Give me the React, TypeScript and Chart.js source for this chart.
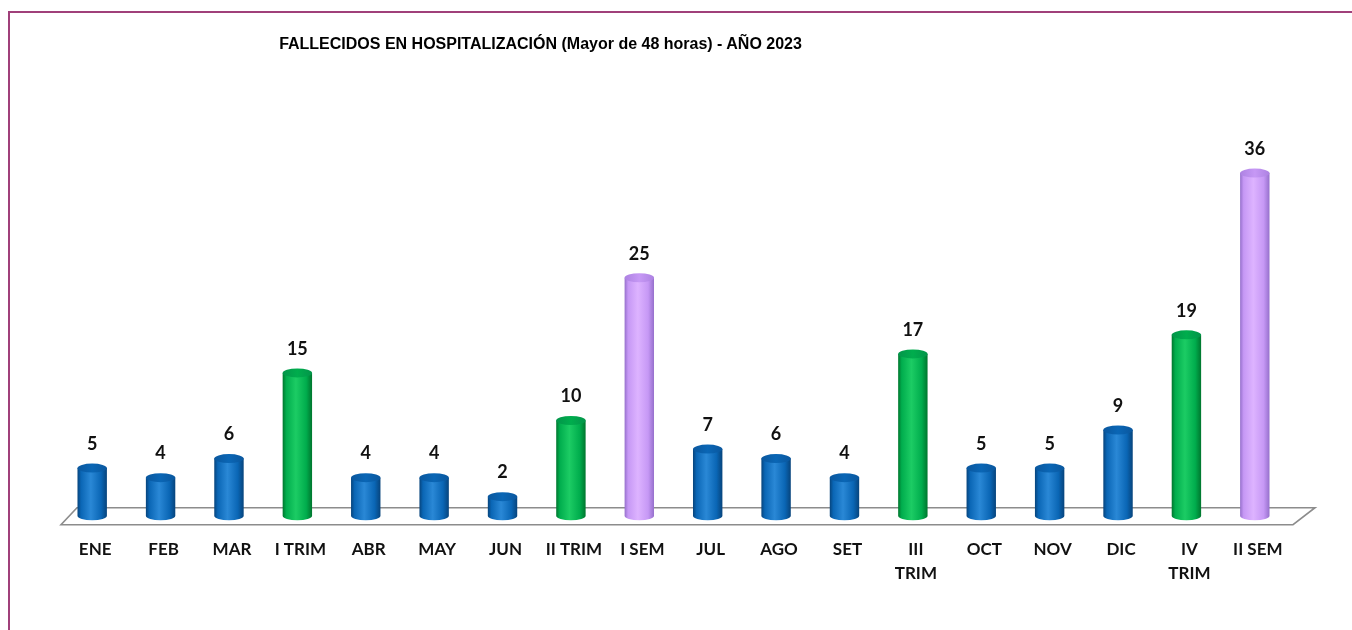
import React, { useEffect, useRef } from "react";
import { Chart, registerables } from "chart.js";

Chart.register(...registerables);

const categories: (string | string[])[] = [
  "ENE", "FEB", "MAR", "I TRIM", "ABR", "MAY", "JUN", "II TRIM", "I SEM",
  "JUL", "AGO", "SET", ["III", "TRIM"], "OCT", "NOV", "DIC", ["IV", "TRIM"], "II SEM",
];
const values = [5, 4, 6, 15, 4, 4, 2, 10, 25, 7, 6, 4, 17, 5, 5, 9, 19, 36];
const kinds = [
  "mes", "mes", "mes", "trim", "mes", "mes", "mes", "trim", "sem",
  "mes", "mes", "mes", "trim", "mes", "mes", "mes", "trim", "sem",
];
const titleText = "FALLECIDOS EN HOSPITALIZACIÓN (Mayor de 48 horas) - AÑO 2023";
const yMax = 40;

const palettes: Record<string, { dark: string; light: string; base: string; top: string }> = {
  mes: { dark: "#07447c", light: "#2a88d6", base: "#0a66b5", top: "#0a579e" },
  trim: { dark: "#00762e", light: "#1ccc64", base: "#00ad4d", top: "#03954a" },
  sem: { dark: "#9670cc", light: "#ddb3ff", base: "#c698f5", top: "#ad82e2" },
};

const floorPlugin = {
  id: "floor3d",
  beforeDatasetsDraw(chart: any) {
    const { ctx, chartArea } = chart;
    const y0 = chart.scales.y.getPixelForValue(0);
    ctx.save();
    ctx.beginPath();
    ctx.moveTo(chartArea.left + 3, y0 + 9);
    ctx.lineTo(chartArea.right + 4, y0 + 9);
    ctx.lineTo(chartArea.right + 26, y0 - 8);
    ctx.lineTo(chartArea.left + 19, y0 - 8);
    ctx.closePath();
    ctx.fillStyle = "#ffffff";
    ctx.fill();
    ctx.strokeStyle = "#8c8c8c";
    ctx.lineWidth = 1.6;
    ctx.stroke();
    ctx.restore();
  },
};

const cylinderPlugin = {
  id: "cylinders",
  afterDatasetsDraw(chart: any) {
    const ctx = chart.ctx;
    const meta = chart.getDatasetMeta(0);
    ctx.save();
    meta.data.forEach((bar: any, i: number) => {
      const { x, y, base, width } = bar.getProps(["x", "y", "base", "width"], true);
      const p = palettes[kinds[i]];
      const l = x - width / 2;
      const r = x + width / 2;
      const rx = width / 2;
      const ry = 4.5;
      const g = ctx.createLinearGradient(l, 0, r, 0);
      g.addColorStop(0, p.dark);
      g.addColorStop(0.12, p.base);
      g.addColorStop(0.45, p.light);
      g.addColorStop(0.8, p.base);
      g.addColorStop(1, p.dark);
      ctx.beginPath();
      ctx.moveTo(l, y);
      ctx.lineTo(l, base);
      ctx.ellipse(x, base, rx, ry, 0, Math.PI, 0, true);
      ctx.lineTo(r, y);
      ctx.closePath();
      ctx.fillStyle = g;
      ctx.fill();
      const gt = ctx.createLinearGradient(l, 0, r, 0);
      gt.addColorStop(0, p.top);
      gt.addColorStop(0.5, p.base);
      gt.addColorStop(1, p.top);
      ctx.beginPath();
      ctx.ellipse(x, y, rx, ry, 0, 0, Math.PI * 2);
      ctx.fillStyle = gt;
      ctx.fill();
      ctx.fillStyle = "#111111";
      ctx.font = "bold 18px Lato";
      ctx.textAlign = "center";
      ctx.textBaseline = "middle";
      ctx.fillText(String(values[i]), x, y - 24);
    });
    ctx.restore();
  },
};

export default function App() {
  const canvasRef = useRef<HTMLCanvasElement | null>(null);

  useEffect(() => {
    if (!canvasRef.current) return;
    const chart = new Chart(canvasRef.current, {
      type: "bar",
      data: {
        labels: categories,
        datasets: [
          {
            data: values,
            backgroundColor: "rgba(0,0,0,0)",
            borderWidth: 0,
            categoryPercentage: 1,
            barPercentage: 0.43,
          },
        ],
      },
      options: {
        responsive: false,
        animation: false,
        events: [],
        layout: { padding: { left: 58, right: 63, top: 135, bottom: 23 } },
        plugins: {
          legend: { display: false },
          title: { display: false },
          tooltip: { enabled: false },
        },
        scales: {
          x: {
            grid: { display: false, drawTicks: false },
            border: { display: false },
            ticks: {
              padding: 21,
              labelOffset: 3,
              color: "#111111",
              font: { family: "Lato", weight: "bold", size: 17, lineHeight: 1.45 },
              maxRotation: 0,
              autoSkip: false,
            },
          },
          y: {
            display: false,
            min: 0,
            max: yMax,
          },
        },
      },
      plugins: [floorPlugin, cylinderPlugin],
    });
    return () => chart.destroy();
  }, []);

  return (
    <div style={{ position: "absolute", left: 0, top: 0, width: 1352, height: 630, overflow: "hidden", background: "#fff" }}>
      <div
        style={{
          position: "absolute",
          left: 8,
          top: 11,
          width: 1360,
          height: 640,
          borderLeft: "2px solid #a0407a",
          borderTop: "2px solid #a0407a",
        }}
      />
      <canvas ref={canvasRef} width={1352} height={630} style={{ position: "absolute", left: 0, top: 0 }} />
      <div
        style={{
          position: "absolute",
          left: 0,
          top: 36,
          width: 1081,
          textAlign: "center",
          fontFamily: "'Liberation Sans Narrow', 'Liberation Sans', Arial, sans-serif",
          fontWeight: "bold",
          fontSize: 16,
          lineHeight: "16px",
          color: "#000",
          whiteSpace: "nowrap",
        }}
      >
        {titleText}
      </div>
    </div>
  );
}
